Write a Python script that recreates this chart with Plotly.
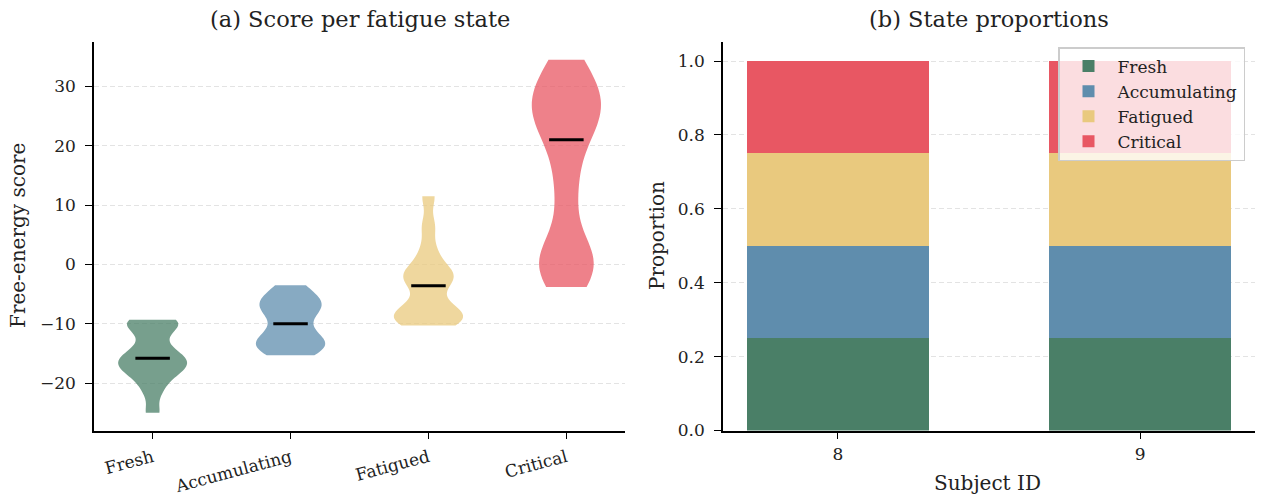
import numpy as np
import plotly.graph_objects as go

# ---------------- data ----------------
states = ["Fresh", "Accumulating", "Fatigued", "Critical"]

fresh_scores = [-25.0, -21.5, -19.5, -18.3, -17.6, -17.0, -16.5, -15.8,
                -15.3, -14.5, -12.6, -10.6, -10.0, -9.6, -9.3]
accumulating_scores = [-15.3, -14.6, -14.0, -13.5, -13.0, -12.4, -11.6, -10.0,
                       -8.4, -7.6, -7.0, -6.4, -5.8, -4.8, -3.5]
fatigued_scores = [-10.3, -9.8, -9.3, -8.8, -8.3, -7.6, -6.5, -3.6,
                   -2.8, -2.0, -1.2, -0.2, 2.5, 6.5, 11.5]
critical_scores = [-3.8, -1.2, 0.0, 1.2, 3.5, 10.5, 16.0, 21.0,
                   23.0, 25.0, 26.5, 28.0, 29.5, 31.5, 34.5]

subjects = [8, 9]
fresh_prop = [0.25, 0.25]
accumulating_prop = [0.25, 0.25]
fatigued_prop = [0.25, 0.25]
critical_prop = [0.25, 0.25]

# ---------------- style ----------------
FONT = "DejaVu Serif"
bar_colors = ["#4A7F67", "#5F8DAD", "#E9C97E", "#E85763"]
violin_colors = ["rgba(74,127,103,0.75)", "rgba(95,141,173,0.75)",
                 "rgba(233,201,126,0.75)", "rgba(232,87,99,0.75)"]
bandwidths = [1.5, 1.7, 1.8, 4.2]

score_sets = [fresh_scores, accumulating_scores, fatigued_scores, critical_scores]
prop_sets = [fresh_prop, accumulating_prop, fatigued_prop, critical_prop]

W, H = 1264, 503
def px_x(p):
    return p / W
def px_y(p):
    return 1 - p / H

fig = go.Figure()

# left: violins
for i, (name, sc) in enumerate(zip(states, score_sets)):
    fig.add_trace(go.Violin(
        x0=i, y=sc, name=name, width=0.5, scalemode="width",
        spanmode="hard", bandwidth=bandwidths[i], points=False,
        fillcolor=violin_colors[i], line=dict(width=0, color=violin_colors[i]),
        box_visible=False, meanline_visible=False, showlegend=False,
        xaxis="x", yaxis="y", hoverinfo="skip",
    ))
    med = float(np.median(sc))
    fig.add_trace(go.Scatter(
        x=[i - 0.125, i + 0.125], y=[med, med], mode="lines",
        line=dict(color="black", width=3), showlegend=False,
        xaxis="x", yaxis="y", hoverinfo="skip",
    ))

# right: stacked bars
for i, (name, pr) in enumerate(zip(states, prop_sets)):
    fig.add_trace(go.Bar(
        x=subjects, y=pr, name=name, width=0.6,
        marker=dict(color=bar_colors[i], line=dict(width=0)),
        xaxis="x2", yaxis="y2",
    ))

axis_common = dict(
    showline=True, linecolor="black", linewidth=1.5, mirror=False,
    ticks="outside", ticklen=7, tickwidth=1.4, tickcolor="black",
    zeroline=False, tickfont=dict(family=FONT, size=17, color="#222"),
    automargin=False,
)
grid = dict(showgrid=True, gridcolor="#e3e3e3", gridwidth=0.8, griddash="5px,3px")

ydom = [px_y(430.5), px_y(42)]

fig.update_layout(
    width=W, height=H,
    margin=dict(l=0, r=0, t=0, b=0, autoexpand=False),
    plot_bgcolor="white", paper_bgcolor="white",
    font=dict(family=FONT, color="#222"),
    barmode="stack",
    xaxis=dict(domain=[px_x(94), px_x(625)], range=[-0.425, 3.425],
               tickvals=list(range(len(states))), ticktext=states,
               tickangle=-15, showgrid=False, anchor="y", ticklabelstandoff=2,
               **axis_common),
    yaxis=dict(domain=ydom, range=[-27.98, 37.48], tickvals=[-20, -10, 0, 10, 20, 30],
               anchor="x", ticklabelstandoff=6, **grid, **axis_common),
    xaxis2=dict(domain=[px_x(723), px_x(1255)], range=[7.62, 9.38],
                tickvals=subjects, showgrid=False, anchor="y2", ticklabelstandoff=0,
                **axis_common),
    yaxis2=dict(domain=ydom, range=[0, 1.0515], tickvals=[0, 0.2, 0.4, 0.6, 0.8, 1.0],
                tickformat=".1f", anchor="x2", ticklabelstandoff=6, **grid, **axis_common),
    legend=dict(
        x=px_x(1245), y=px_y(47), xanchor="right", yanchor="top",
        bgcolor="rgba(255,255,255,0.8)", bordercolor="#cccccc", borderwidth=1.5,
        font=dict(family=FONT, size=17, color="#222"), traceorder="normal",
        itemwidth=48,
    ),
    annotations=[
        dict(text="(a) Score per fatigue state", x=px_x(359.5), y=px_y(19),
             xref="paper", yref="paper", showarrow=False,
             font=dict(family=FONT, size=22.5, color="#222"), xanchor="center", yanchor="middle"),
        dict(text="(b) State proportions", x=px_x(989), y=px_y(19),
             xref="paper", yref="paper", showarrow=False,
             font=dict(family=FONT, size=22.5, color="#222"), xanchor="center", yanchor="middle"),
        dict(text="Free-energy score", x=px_x(18), y=px_y(236),
             xref="paper", yref="paper", showarrow=False, textangle=-90,
             font=dict(family=FONT, size=20, color="#222"), xanchor="center", yanchor="middle"),
        dict(text="Proportion", x=px_x(657), y=px_y(236),
             xref="paper", yref="paper", showarrow=False, textangle=-90,
             font=dict(family=FONT, size=20, color="#222"), xanchor="center", yanchor="middle"),
        dict(text="Subject ID", x=px_x(988), y=px_y(483),
             xref="paper", yref="paper", showarrow=False,
             font=dict(family=FONT, size=20, color="#222"), xanchor="center", yanchor="middle"),
    ],
)

fig.write_html("out.html")
